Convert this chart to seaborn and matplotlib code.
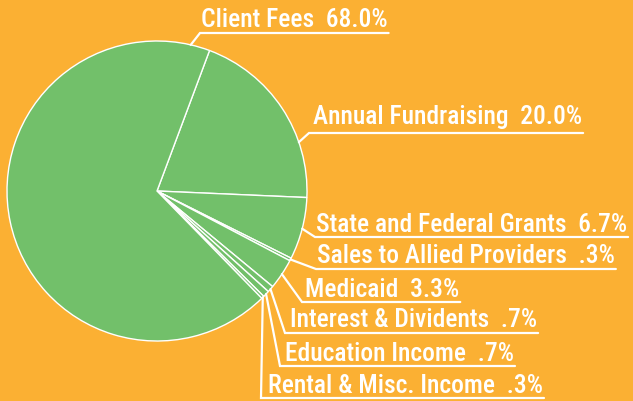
import matplotlib
matplotlib.use("Agg")
import numpy as np
import matplotlib.pyplot as plt
import seaborn as sns

### DATA ###

sources = ["Annual Fundraising", "State and Federal Grants", "Sales to Allied Providers",
           "Medicaid", "Interest & Dividents", "Education Income",
           "Rental & Misc. Income", "Client Fees"]
shares = [20.0, 6.7, 0.3, 3.3, 0.7, 0.7, 0.3, 68.0]

### LAYOUT (pixels in the 633x402 picture) ###

# anchor angle on the rim (None = middle of the wedge)
anchor_deg = [19, None, None, None, None, None, None, 77]
# text left x, baseline y, underline y, bend x
label_pos = [(313, 124, 134, 309),
             (316, 232, 238, 315),
             (317, 263, 270, 316),
             (305, 297, 303, 302),
             (290, 327, 334, 285),
             (285, 361, 367, 280),
             (268, 393, 399, 261),
             (201, 27, 34, 200)]

BG = "#FBB033"
GREEN = "#72C06A"

sns.set_theme(style="white")
plt.rcParams['font.family'] = ['Roboto Condensed', 'DejaVu Sans']

W, H = 633, 402
fig = plt.figure(figsize=(W / 100, H / 100), dpi=100, facecolor=BG)
ax = fig.add_axes([7 / W, 60 / H, 300 / W, 300 / H])
ax.set_facecolor(BG)

wedges, _ = ax.pie(shares, startangle=69.5, counterclock=False,
                   colors=[GREEN] * len(shares),
                   wedgeprops=dict(edgecolor="white", linewidth=1.0))
ax.set_xlim(-1, 1)
ax.set_ylim(-1, 1)
ax.set_aspect("equal")
ax.axis("off")


def px(x, y):
    # picture pixels -> pie data units (centre 157,192, radius 150)
    return (x - 157) / 150, (192 - y) / 150


def pct(v):
    s = f"{v:.1f}%"
    return s[1:] if s.startswith("0") else s


renderer = fig.canvas.get_renderer()

for w, name, v, ang, (tx, by, uy, bx) in zip(wedges, sources, shares, anchor_deg, label_pos):
    if ang is None:
        ang = (w.theta1 + w.theta2) / 2
    a = np.deg2rad(ang)
    x0, y0 = np.cos(a), np.sin(a)
    t = ax.text(*px(tx, by), f"{name}  {pct(v)}", color="white", fontsize=18.4,
                fontweight="medium", ha="left", va="baseline", clip_on=False)
    ext = t.get_window_extent(renderer)
    right = ax.transData.inverted().transform((ext.x1 + 1, 0))[0]
    bxd, uyd = px(bx, uy)
    ax.plot([x0, bxd, right], [y0, uyd, uyd], color="white", lw=1.6,
            clip_on=False, solid_joinstyle="miter")

fig.savefig("out.png", dpi=100, facecolor=BG)
